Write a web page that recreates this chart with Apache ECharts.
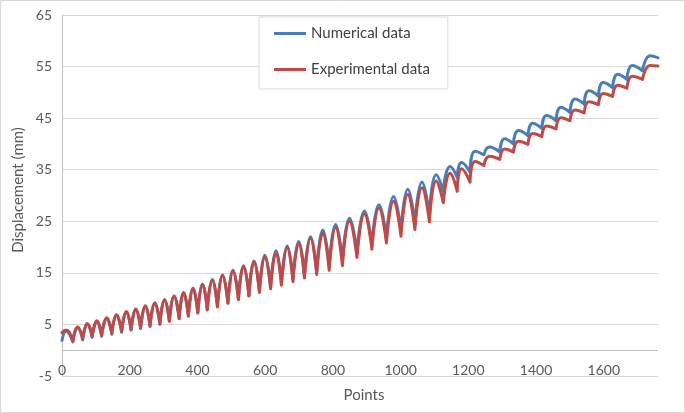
<!DOCTYPE html>
<html>
<head>
<meta charset="utf-8">
<script src="https://cdn.jsdelivr.net/npm/echarts@6/dist/echarts.min.js"></script>
<style>
html,body{margin:0;padding:0;background:#fff}
#c{width:685px;height:413px}
</style>
</head>
<body>
<div id="c"></div>
<script>
// ---- data ----
const seriesNames = ['Numerical data', 'Experimental data'];
const xMax = 1760;
// x (point index) of the cusp-like dips of each loading cycle
const troughX = [32,61,89,117,147,176,204,232,260,289,317,346,373,401,429,459,490,521,552,583,616,648,682,716,752,789,828,871,915,958,1001,1042,1085,1126,1167,1205,1246,1293,1333,1376,1417,1459,1500,1542,1584,1626,1668,1714];
// x of the rounded tops (one before every dip, plus the last one)
const peakX = [12,46,75,103,132,161,190,218,246,274,303,331,359,387,415,444,474,505,536,567,599,632,665,699,734,770,808,849,893,936,979,1021,1063,1105,1146,1180,1220,1262,1307,1348,1390,1431,1473,1515,1556,1598,1641,1684,1737];

// Numerical data (mm)
const numStart = 1.9;
const numPeak = [3.7,4.3,5.0,5.5,6.1,6.7,7.3,7.8,8.4,9.0,9.8,10.5,11.2,12.0,12.8,13.7,14.6,15.5,16.4,17.3,18.4,19.3,20.2,21.1,22.0,23.3,24.4,25.6,27.0,28.2,29.8,31.2,32.6,34.0,35.6,36.4,38.6,39.4,41.0,42.6,44.0,45.5,47.1,48.7,50.3,51.9,53.5,55.2,57.1];
const numTrough = [1.6,2.0,2.5,2.7,3.1,3.5,3.9,4.2,4.6,5.0,5.7,6.2,6.7,7.3,7.9,8.5,9.2,9.9,10.6,11.3,12.3,13.0,13.7,14.4,15.1,16.3,17.2,18.8,20.4,21.6,23.1,24.4,25.9,30.8,33.5,34.5,37.9,38.4,40.0,41.6,43.0,44.5,46.1,47.7,49.3,50.9,52.5,54.2];
const numEnd = 56.7;

// Experimental data (mm)
const expStart = 3.4;
const expPeak = [3.9,4.5,5.2,5.7,6.3,6.9,7.5,8.0,8.6,9.2,9.8,10.5,11.2,12.0,12.8,13.6,14.5,15.4,16.3,17.2,18.1,19.0,19.9,20.8,21.7,22.7,23.8,25.0,26.4,27.6,28.9,30.2,31.5,32.8,34.3,35.2,36.6,37.6,39.0,40.5,42.0,43.5,45.1,46.6,48.2,49.8,51.4,53.1,55.2];
const expTrough = [1.8,2.2,2.7,2.9,3.3,3.7,4.1,4.4,4.8,5.2,5.6,6.1,6.6,7.2,7.8,8.4,9.1,9.8,10.5,11.2,11.9,12.6,13.3,14.0,14.7,15.5,16.4,18.0,19.6,20.8,22.1,23.4,24.9,28.6,30.8,32.6,35.8,37.0,38.4,39.9,41.4,42.9,44.5,46.0,47.6,49.2,50.8,52.5];
const expEnd = 55.1;

// Each cycle (dip -> top -> dip) is its own smooth piece, so the dips stay sharp cusps.
function buildLine(start, peaks, troughs, end) {
  const pts = [[0, start], [peakX[0], peaks[0]], [troughX[0], troughs[0]]];
  for (let i = 0; i < troughX.length; i++) {
    pts.push([troughX[i], null]);               // break between cycles
    pts.push([troughX[i], troughs[i]]);
    pts.push([peakX[i + 1], peaks[i + 1]]);
    if (i + 1 < troughX.length) pts.push([troughX[i + 1], troughs[i + 1]]);
    else pts.push([xMax, end]);
  }
  return pts;
}

const numData = buildLine(numStart, numPeak, numTrough, numEnd);
const expData = buildLine(expStart, expPeak, expTrough, expEnd);

const FONT = 'Lato, "Open Sans", sans-serif';
const TXT = '#595959';
const chart = echarts.init(document.getElementById('c'), null, {renderer: 'canvas'});
chart.setOption({
  animation: false,
  backgroundColor: '#ffffff',
  grid: {left: 62, right: 27, top: 15, bottom: 37},
  graphic: [
    {type: 'rect', shape: {x: 0.5, y: 0.5, width: 684, height: 412}, style: {fill: 'none', stroke: '#d9d9d9', lineWidth: 1}, silent: true, z: -10},
    {type: 'text', x: 364, y: 395, style: {text: 'Points', fontFamily: FONT, fontSize: 15, fill: TXT, align: 'center', verticalAlign: 'middle'}},
    {type: 'text', x: 18, y: 190, rotation: Math.PI / 2, style: {text: 'Displacement (mm)', fontFamily: FONT, fontSize: 15, fill: TXT, align: 'center', verticalAlign: 'middle'}}
  ],
  legend: {
    data: seriesNames.map(n => ({name: n, icon: 'rect'})),
    orient: 'vertical',
    left: 259, top: 17,
    padding: [9, 18, 12, 15],
    itemGap: 21, itemWidth: 32, itemHeight: 3,
    backgroundColor: '#ffffff', borderColor: '#d9d9d9', borderWidth: 1, borderRadius: 0,
    textStyle: {fontFamily: FONT, fontSize: 15, color: '#404040'}
  },
  xAxis: {
    type: 'value', min: 0, max: xMax, interval: 200,
    axisLine: {show: false, onZero: false},
    axisTick: {show: false},
    splitLine: {show: false},
    axisLabel: {color: TXT, fontFamily: FONT, fontSize: 14, margin: -13, showMaxLabel: false,
      formatter: v => String(v)}
  },
  yAxis: {
    type: 'value', min: -5, max: 65, interval: 10,
    axisLine: {show: true, lineStyle: {color: '#bfbfbf', width: 1}},
    axisTick: {show: false},
    splitLine: {show: true, lineStyle: {color: '#d9d9d9', width: 1}},
    axisLabel: {color: TXT, fontFamily: FONT, fontSize: 14, margin: 10}
  },
  series: [
    {
      name: seriesNames[0], type: 'line', data: numData, symbol: 'none', smooth: 0.5,
      connectNulls: false, color: '#4a7ebb',
      lineStyle: {color: '#4a7ebb', width: 3, cap: 'round', join: 'round'},
      markLine: {silent: true, symbol: ['none', 'none'], label: {show: false},
        lineStyle: {color: '#bfbfbf', width: 1, type: 'solid'}, data: [{yAxis: 0}]}
    },
    {
      name: seriesNames[1], type: 'line', data: expData, symbol: 'none', smooth: 0.5,
      connectNulls: false, color: '#be4b48',
      lineStyle: {color: '#be4b48', width: 3, cap: 'round', join: 'round'}
    }
  ]
});
</script>
</body>
</html>
